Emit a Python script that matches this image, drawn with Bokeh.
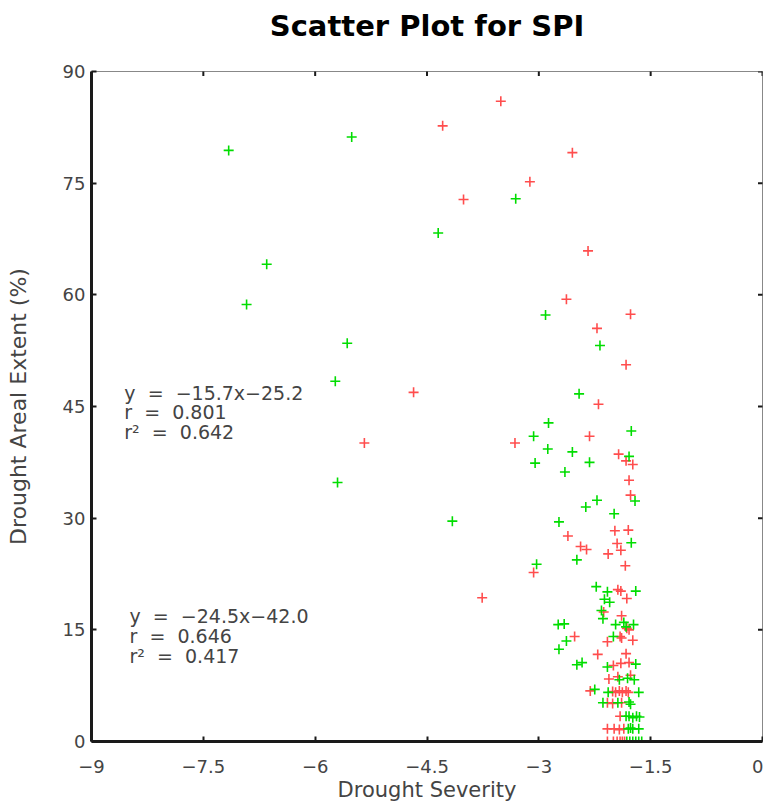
import math
from bokeh.plotting import figure
from bokeh.models import Label, LinearAxis, FixedTicker, CustomJSTickFormatter, Range1d
from bokeh.embed import file_html
from bokeh.resources import INLINE

# ---- data ----
green_x = [-7.16, -5.51, -6.65, -6.92, -5.57, -5.73, -5.70, -4.35, -3.31, -2.91,
           -2.18, -2.46, -2.87, -3.07, -1.76, -2.88, -2.55, -1.79, -3.05, -2.32,
           -2.65, -1.71, -2.22, -2.37, -1.99, -4.16, -2.73, -1.76, -2.49, -3.03,
           -2.23, -2.08, -1.70, -2.12, -2.05, -2.16, -2.14, -2.74, -2.66, -1.97,
           -1.86, -1.83, -1.73, -2.00, -2.63, -2.73, -2.49, -2.42, -2.08, -1.70,
           -1.92, -1.81, -1.72, -2.25, -2.07, -1.66, -2.14, -1.94, -1.79, -1.77,
           -1.83, -1.79, -1.74, -1.69, -1.65, -1.80, -1.74, -1.66, -1.77,
           -1.82, -1.78, -1.74, -1.70, -1.66, -1.62]
green_y = [79.4, 81.2, 64.1, 58.7, 53.5, 48.4, 34.8, 68.3, 72.9, 57.3,
           53.2, 46.7, 42.8, 41.0, 41.7, 39.3, 38.9, 38.3, 37.4, 37.5,
           36.2, 32.3, 32.4, 31.5, 30.6, 29.6, 29.5, 26.7, 24.4, 23.8,
           20.8, 20.1, 20.2, 19.1, 18.7, 17.6, 16.5, 15.7, 15.8, 15.7,
           16.0, 15.4, 15.7, 14.1, 13.5, 12.4, 10.3, 10.6, 10.0, 10.4,
           8.3, 8.5, 8.3, 7.0, 6.6, 6.6, 5.2, 5.2, 5.3, 5.0,
           3.4, 3.4, 3.2, 3.4, 3.3, 1.7, 1.7, 1.7, 1.8,
           0.0, 0.0, 0.0, 0.0, 0.0, 0.0]

red_x = [-4.68, -3.51, -4.29, -2.55, -3.12, -4.01, -2.34, -2.63, -1.77, -2.22,
         -1.83, -2.20, -5.34, -2.32, -3.32, -1.93, -1.83, -1.74, -1.79, -1.77,
         -1.98, -1.80, -2.61, -1.95, -2.44, -2.36, -1.90, -2.07, -1.84, -3.07,
         -3.76, -1.94, -1.90, -1.82, -2.13, -1.89, -1.82, -1.79, -1.91, -1.89,
         -2.52, -2.08, -1.74, -2.21, -1.83, -2.00, -1.90, -1.79, -2.06, -1.94,
         -1.77, -2.31, -2.01, -1.97, -1.92, -1.88, -1.83, -1.80, -2.08, -2.01,
         -1.89, -1.91, -2.08, -1.99, -1.92, -1.86,
         -2.08, -2.00, -1.95, -1.91, -1.88, -1.85]
red_y = [46.9, 86.0, 82.7, 79.1, 75.2, 72.8, 65.9, 59.4, 57.4, 55.5,
         50.6, 45.3, 40.1, 41.0, 40.1, 38.6, 37.7, 37.2, 35.1, 33.1,
         28.3, 28.4, 27.6, 26.6, 26.2, 25.8, 25.7, 25.2, 23.6, 22.7,
         19.3, 20.4, 20.2, 19.2, 17.4, 16.9, 15.2, 15.0, 14.1, 13.9,
         14.1, 13.4, 13.6, 11.7, 11.8, 10.2, 10.5, 10.6, 8.4, 8.7,
         8.9, 6.8, 6.7, 6.6, 6.8, 6.6, 6.8, 6.6, 5.2, 5.1,
         5.2, 3.4, 1.7, 1.7, 1.6, 1.7,
         0.0, 0.0, 0.0, 0.0, 0.0, 0.0]

x_ticks = [-9, -7.5, -6, -4.5, -3, -1.5, 0]
y_ticks = [0, 15, 30, 45, 60, 75, 90]
x_min, x_max = -9, 0
y_min, y_max = 0, 90

title_text = "Scatter Plot for SPI"
NB = "\u00a0"
fit1_lines = ["y" + NB * 2 + "=" + NB * 2 + "\u221215.7x\u221225.2",
              "r" + NB * 2 + "=" + NB * 2 + "0.801",
              "r\u00b2" + NB * 2 + "=" + NB * 2 + "0.642"]
fit2_lines = ["y" + NB * 2 + "=" + NB * 2 + "\u221224.5x\u221242.0",
              "r" + NB * 2 + "=" + NB * 2 + "0.646",
              "r\u00b2" + NB * 2 + "=" + NB * 2 + "0.417"]

FONT = "DejaVu Sans"
TXT = "#444444"

p = figure(width=763, height=806, output_backend="svg", toolbar_location=None,
           x_range=Range1d(x_min, x_max), y_range=Range1d(y_min, y_max),
           x_axis_location=None, y_axis_location=None,
           min_border_left=91, min_border_top=71, min_border_bottom=65,
           min_border_right=1)
p.grid.visible = False
p.outline_line_color = "#888888"
p.outline_line_width = 1
p.background_fill_color = "white"
p.border_fill_color = "white"

fmt = CustomJSTickFormatter(code="return tick.toString().replace('-', '\\u2212');")

xb = LinearAxis(ticker=FixedTicker(ticks=x_ticks), formatter=fmt,
                axis_label="Drought Severity")
yl = LinearAxis(ticker=FixedTicker(ticks=y_ticks), formatter=fmt,
                axis_label="Drought Areal Extent (%)")
for ax in (xb, yl):
    ax.axis_line_color = "#1a1a1a"
    ax.axis_line_width = 3
    ax.major_tick_in = 5
    ax.major_tick_out = 0
    ax.major_tick_line_color = "#1a1a1a"
    ax.major_tick_line_width = 2
    ax.minor_tick_line_color = None
    ax.major_label_text_font = FONT
    ax.major_label_text_font_size = "18px"
    ax.major_label_text_color = TXT
    ax.axis_label_text_font = FONT
    ax.axis_label_text_font_size = "22px"
    ax.axis_label_text_font_style = "normal"
    ax.axis_label_text_color = TXT
xb.axis_label_text_font_size = "21px"
xb.major_label_standoff = 18
xb.axis_label_standoff = 2
yl.major_label_standoff = 6
yl.axis_label_standoff = 29
p.add_layout(xb, "below")
p.add_layout(yl, "left")

# title: carried by a label-only axis above the frame (no ticks)
ta = LinearAxis(ticker=FixedTicker(ticks=[]), axis_label=title_text)
ta.axis_line_color = None
ta.major_tick_line_color = None
ta.minor_tick_line_color = None
ta.major_label_standoff = 0
ta.axis_label_standoff = 29
ta.axis_label_text_font = FONT
ta.axis_label_text_font_size = "29px"
ta.axis_label_text_font_style = "bold"
ta.axis_label_text_color = "black"
p.add_layout(ta, "above")

# tick marks on the top and right frame edges (clipped half-dashes)
p.scatter(x_ticks, [y_max] * len(x_ticks), marker="dash", angle=math.pi / 2,
          size=9, line_color="#1a1a1a", line_width=2)
p.scatter([x_max] * len(y_ticks), y_ticks, marker="dash", angle=0,
          size=9, line_color="#1a1a1a", line_width=2)

p.scatter(red_x, red_y, marker="cross", size=10, line_width=1.6,
          line_color="#ff4d4d")
p.scatter(green_x, green_y, marker="cross", size=10, line_width=1.6,
          line_color="#00dd00")

for i, t in enumerate(fit1_lines):
    p.add_layout(Label(x=-8.56, y=[46.8, 44.3, 41.6][i], text=t,
                       text_font=FONT, text_font_size="19px", text_color=TXT,
                       text_baseline="middle", text_align="left"))
for i, t in enumerate(fit2_lines):
    p.add_layout(Label(x=-8.49, y=[16.8, 14.2, 11.5][i], text=t,
                       text_font=FONT, text_font_size="19px", text_color=TXT,
                       text_baseline="middle", text_align="left"))

open("out.html", "w").write(file_html(p, INLINE))
